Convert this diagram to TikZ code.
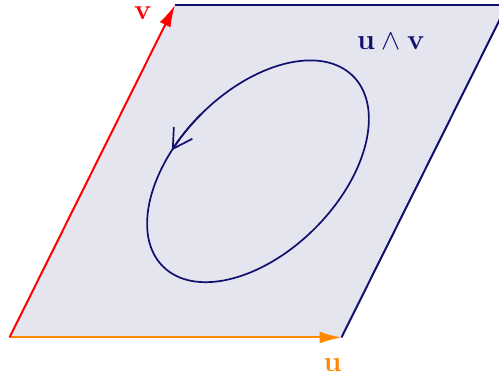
\documentclass[tikz,border=0pt]{standalone}
\usetikzlibrary{arrows.meta}
\definecolor{navyc}{RGB}{15,15,110}
\definecolor{fillc}{RGB}{229,229,240}
\definecolor{orangec}{RGB}{255,135,0}
\tikzset{
  edge/.style={navyc, line width=1pt},
  vecarrow/.style={line width=1pt, -{Latex[length=11pt,width=6pt]}},
  lbl/.style={inner sep=0pt, font=\fontsize{15}{17}\selectfont},
  loopline/.style={navyc, line width=0.85pt}
}
\begin{document}
\begin{tikzpicture}[x=0.5pt,y=0.5pt]
\useasboundingbox (0,0) rectangle (499,380);
\begin{scope}
\clip (0,0) rectangle (499,380);
\coordinate (A) at (9.5,42.5);
\coordinate (B) at (341.5,42.5);
\coordinate (D) at (175,375);
\coordinate (C) at (507,375);
\fill[fillc] (A) -- (B) -- (C) -- (D) -- cycle;
\draw[edge] (B) -- (C);
\draw[edge] (D) -- (C);
\draw[vecarrow, orangec] (A) -- (B);
\draw[vecarrow, red] (A) -- (D);
\end{scope}
\begin{scope}[shift={(258,208.7)}, rotate=45]
  \coordinate (E) at (0,0);
  \draw[loopline] (E) ellipse [x radius=134.5, y radius=80.6];
  \draw[loopline, -{Straight Barb[length=9.5pt,width=11pt]}] (90:134.5 and 80.6) arc[start angle=90, end angle=110, x radius=134.5, y radius=80.6];
\end{scope}
\node[lbl, text=orangec] (lu) at (332.5,14.5) {$\mathbf{u}$};
\node[lbl, text=red] (lv) at (143,367) {$\mathbf{v}$};
\node[lbl, text=navyc, font=\fontsize{14}{16}\selectfont] (luv) at (391,338.5) {$\mathbf{u}\wedge\mathbf{v}$};
\end{tikzpicture}
\end{document}
